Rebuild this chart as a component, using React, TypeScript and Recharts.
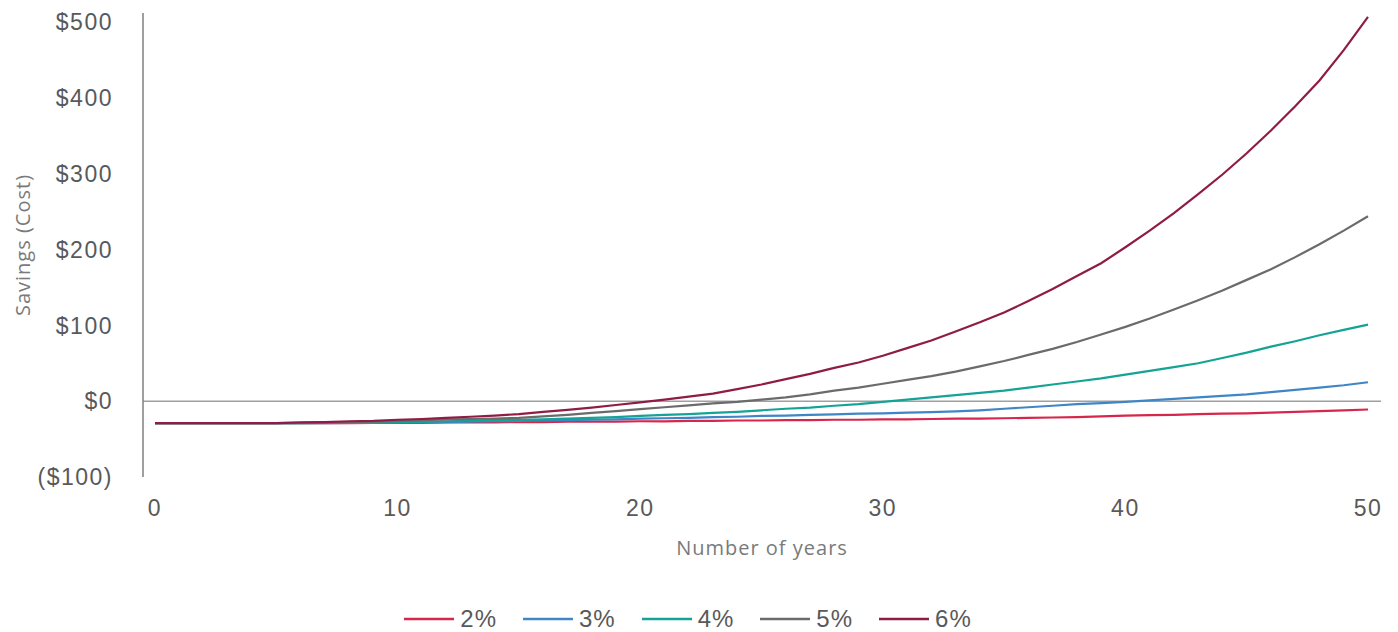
import { LineChart, Line, XAxis, YAxis, ReferenceLine, Legend } from 'recharts';

const years = Array.from({ length: 51 }, (_, i) => i);

// savings values, one per year (0..50)
const rate2 = [
  -29, -29, -29, -29, -29, -29, -29, -29, -29, -28.5, -28.5,
  -28.5, -28, -28, -28, -27.5, -27.5, -27, -27, -27, -26.5,
  -26.5, -26, -26, -25.5, -25.5, -25, -25, -24.5, -24.5, -24,
  -24, -23.5, -23, -23, -22.5, -22, -21.5, -21, -20, -19,
  -18.5, -18, -17, -16.5, -16, -15, -14, -13, -12, -11,
];
const rate3 = [
  -29, -29, -29, -29, -29, -29, -29, -29, -28.5, -28.5, -28,
  -28, -27.5, -27, -26.5, -26, -25.5, -25, -24.5, -24, -23,
  -22.5, -22, -21, -20.5, -19.5, -19, -18, -17.5, -16.5, -16,
  -15, -14.5, -13.5, -12, -10, -8, -6, -4, -2.5, -1,
  1, 3, 5, 7, 9, 12, 15, 18, 21, 25,
];
const rate4 = [
  -29, -29, -29, -29, -29, -29, -29, -28.5, -28, -28, -27.5,
  -27, -26.5, -26, -25, -24.5, -24, -23, -22, -21, -19.5,
  -18, -17, -15.5, -14, -12, -10, -8.5, -6, -4, -1,
  2, 5, 8, 11, 14, 18, 22, 26, 30, 35,
  40, 45, 50, 57, 64, 72, 79, 87, 94, 101,
];
const rate5 = [
  -29, -29, -29, -29, -29, -29, -28.5, -28, -27.5, -27, -26,
  -25, -24, -23.5, -23, -22, -20, -18, -15.5, -13, -10.5,
  -8, -5.5, -3, -1, 2, 5, 9, 14, 18, 23,
  28, 33, 39, 46, 53, 61, 69, 78, 88, 98,
  109, 121, 133, 146, 160, 174, 190, 207, 225, 244,
];
const rate6 = [
  -29, -29, -29, -29, -29, -29, -28, -27.5, -26.5, -26, -24.5,
  -23.5, -22, -20.5, -19, -17, -14, -11.5, -8.5, -5, -1.5,
  2, 6, 10, 16, 22, 29, 36, 44, 51, 60,
  70, 80, 92, 104, 117, 132, 148, 165, 182, 203,
  225, 248, 273, 299, 327, 357, 389, 423, 463, 507,
];

const xTicks = [0, 10, 20, 30, 40, 50];
const yTicks = [-100, 0, 100, 200, 300, 400, 500];

const series = [
  { key: 'r2', name: '2%', values: rate2, color: '#d7264b' },
  { key: 'r3', name: '3%', values: rate3, color: '#3f86c6' },
  { key: 'r4', name: '4%', values: rate4, color: '#14a394' },
  { key: 'r5', name: '5%', values: rate5, color: '#6b6b6b' },
  { key: 'r6', name: '6%', values: rate6, color: '#8f1c46' },
];

const data = years.map((year, i) => {
  const row: Record<string, number> = { year };
  series.forEach(s => { row[s.key] = s.values[i]; });
  return row;
});

const tickFont = { fontFamily: 'Liberation Sans, Arial, sans-serif', fontSize: 23, fill: '#595959', letterSpacing: 1.5 };
const titleFont = { fontFamily: 'Open Sans, sans-serif', fontSize: 20, fill: '#7a7a7a', letterSpacing: 1 };

const money = (v: number) => (v < 0 ? `($${Math.abs(v)})` : `$${v}`);

const LegendContent = ({ payload }: any) => (
  <div style={{ display: 'flex', justifyContent: 'center', height: 26, alignItems: 'center', paddingRight: 5 }}>
    {(payload || []).map((p: any, i: number) => (
      <div key={p.value} style={{ display: 'flex', alignItems: 'center', marginLeft: i === 0 ? 0 : 26 }}>
        <svg width={50} height={4}>
          <line x1={0} y1={2} x2={50} y2={2} stroke={p.color} strokeWidth={2.5} />
        </svg>
        <span style={{ fontFamily: 'Liberation Sans, Arial, sans-serif', fontSize: 24, letterSpacing: 1, color: '#595959', marginLeft: 6 }}>
          {p.value}
        </span>
      </div>
    ))}
  </div>
);

const YTitle = ({ viewBox }: any) => {
  const cy = viewBox.y + viewBox.height / 2;
  return (
    <text x={22} y={cy} transform={`rotate(-90, 22, ${cy})`} textAnchor="middle" dominantBaseline="central" style={titleFont}>
      Savings (Cost)
    </text>
  );
};

export default function App() {
  return (
    <div style={{ position: 'absolute', left: 0, top: 0, background: '#fff' }}>
      <LineChart width={1398} height={632} data={data} margin={{ top: 13, right: 17, bottom: 69, left: 0 }}>
        <XAxis
          dataKey="year"
          type="number"
          domain={[-0.495, 50.536]}
          allowDataOverflow
          ticks={xTicks}
          axisLine={false}
          tickLine={false}
          tickSize={6}
          tickMargin={17}
          height={60}
          tick={tickFont}
          label={{ value: 'Number of years', position: 'bottom', offset: 4, style: titleFont }}
        />
        <YAxis
          type="number"
          domain={[-100, 512]}
          allowDataOverflow
          ticks={yTicks}
          tickFormatter={money}
          width={143}
          axisLine={{ stroke: '#7f7f7f', strokeWidth: 1.5 }}
          tickLine={false}
          tickSize={6}
          tickMargin={24}
          tick={tickFont}
          label={<YTitle />}
        />
        <ReferenceLine y={0} stroke="#a0a0a0" strokeWidth={1.5} />
        {series.map(s => (
          <Line
            key={s.key}
            dataKey={s.key}
            name={s.name}
            type="linear"
            stroke={s.color}
            strokeWidth={2.2}
            dot={false}
            isAnimationActive={false}
          />
        ))}
        <Legend verticalAlign="bottom" content={<LegendContent />} wrapperStyle={{ bottom: 0 }} />
      </LineChart>
    </div>
  );
}
